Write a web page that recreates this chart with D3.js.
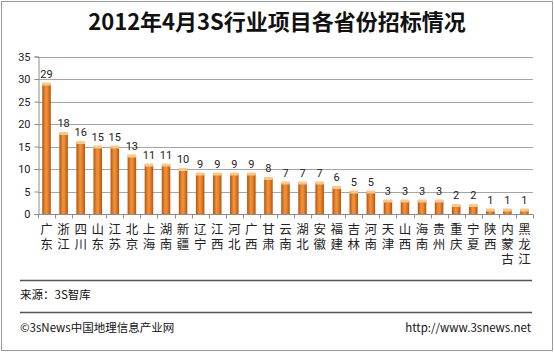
<!DOCTYPE html>
<html>
<head>
<meta charset="utf-8">
<script src="https://cdn.jsdelivr.net/npm/d3@7"></script>
<style>
  body { margin: 0; background: #fff; }
  text { font-family: "Noto Sans CJK SC", "DejaVu Sans", sans-serif; }
</style>
</head>
<body>
<script>
// Chart size
const width = 554;
const height = 353;

// Data
const provinces = ["广东", "浙江", "四川", "山东", "江苏", "北京", "上海", "湖南", "新疆", "辽宁",
  "江西", "河北", "广西", "甘肃", "云南", "湖北", "安徽", "福建", "吉林", "河南",
  "天津", "山西", "海南", "贵州", "重庆", "宁夏", "陕西", "内蒙古", "黑龙江"];
const counts = [29, 18, 16, 15, 15, 13, 11, 11, 10, 9, 9, 9, 9, 8, 7, 7, 7, 6, 5, 5, 3, 3, 3, 3, 2, 2, 1, 1, 1];
const yTicks = [0, 5, 10, 15, 20, 25, 30, 35];

const margin = { left: 38, right: 21, top: 56.5, bottom: 139 };

const svg = d3.select("body").append("svg")
  .attr("width", width)
  .attr("height", height);

// Bar gradient
const defs = svg.append("defs");
const grad = defs.append("linearGradient").attr("id", "barGrad")
  .attr("x1", "0%").attr("x2", "100%").attr("y1", "0%").attr("y2", "0%");
grad.append("stop").attr("offset", "0%").attr("stop-color", "#b5520c");
grad.append("stop").attr("offset", "40%").attr("stop-color", "#f0923a");
grad.append("stop").attr("offset", "60%").attr("stop-color", "#ec8a32");
grad.append("stop").attr("offset", "100%").attr("stop-color", "#b5520c");

// Outer frame
svg.append("rect")
  .attr("x", 1.5).attr("y", 1.5)
  .attr("width", width - 3).attr("height", height - 4)
  .attr("fill", "#fff")
  .attr("stroke", "#9a9a9a");

// Title
svg.append("text")
  .attr("x", width / 2)
  .attr("y", 30)
  .attr("text-anchor", "middle")
  .style("font-size", "22px")
  .style("font-weight", "bold")
  .style("fill", "#111")
  .text("2012年4月3S行业项目各省份招标情况");

// Scales
const x = d3.scaleBand()
  .domain(provinces)
  .range([margin.left, width - margin.right])
  .paddingInner(0.5)
  .paddingOuter(0.25);

const y = d3.scaleLinear()
  .domain([0, 35])
  .range([height - margin.bottom, margin.top]);

// Gridlines
svg.append("g")
  .selectAll("line")
  .data(yTicks.filter(t => t > 0))
  .enter().append("line")
  .attr("x1", margin.left)
  .attr("x2", width - margin.right)
  .attr("y1", d => Math.round(y(d)) + 0.5)
  .attr("y2", d => Math.round(y(d)) + 0.5)
  .attr("stroke", "#a6a6a6")
  .attr("stroke-width", 1);

// Y axis
const yAxis = svg.append("g")
  .attr("transform", `translate(${margin.left + 0.5},0)`)
  .call(d3.axisLeft(y).tickValues(yTicks).tickSize(4).tickPadding(4));
yAxis.select(".domain").attr("stroke", "#8c8c8c");
yAxis.selectAll(".tick line").attr("stroke", "#8c8c8c");
yAxis.selectAll(".tick text")
  .style("font-size", "11px")
  .style("font-family", "Roboto, 'DejaVu Sans', sans-serif")
  .attr("fill", "#222");

// X axis line and ticks at band edges
const xAxisY = Math.round(y(0)) + 0.5;
svg.append("line")
  .attr("x1", margin.left).attr("x2", width - margin.right)
  .attr("y1", xAxisY).attr("y2", xAxisY)
  .attr("stroke", "#8c8c8c");
const step = x.step();
svg.append("g")
  .selectAll("line")
  .data(d3.range(provinces.length + 1))
  .enter().append("line")
  .attr("x1", i => Math.round(margin.left + i * step) + 0.5)
  .attr("x2", i => Math.round(margin.left + i * step) + 0.5)
  .attr("y1", xAxisY)
  .attr("y2", xAxisY + 4)
  .attr("stroke", "#8c8c8c");

// Bars
const bars = svg.append("g")
  .selectAll("g")
  .data(provinces.map((p, i) => ({ name: p, value: counts[i] })))
  .enter().append("g");

bars.append("rect")
  .attr("x", d => x(d.name))
  .attr("y", d => y(d.value))
  .attr("width", x.bandwidth())
  .attr("height", d => y(0) - y(d.value))
  .attr("fill", "url(#barGrad)");

// light top cap
bars.append("rect")
  .attr("x", d => x(d.name))
  .attr("y", d => y(d.value) - 1)
  .attr("width", x.bandwidth())
  .attr("height", 3)
  .attr("fill", "#f9c98a");

// Value labels
bars.append("text")
  .attr("x", d => x(d.name) + x.bandwidth() / 2)
  .attr("y", d => y(d.value) - 6)
  .attr("text-anchor", "middle")
  .style("font-size", "11px")
  .style("font-family", "Roboto, 'DejaVu Sans', sans-serif")
  .style("fill", "#222")
  .text(d => d.value);

// Vertical category labels (top-to-bottom writing)
bars.append("text")
  .attr("x", d => x(d.name) + x.bandwidth() / 2)
  .attr("y", y(0) + 9)
  .attr("text-anchor", "start")
  .style("writing-mode", "vertical-rl")
  .style("letter-spacing", "2.5px")
  .style("font-size", "12.5px")
  .style("fill", "#222")
  .text(d => d.name);

// Footer
svg.append("line")
  .attr("x1", 20).attr("x2", 532)
  .attr("y1", 280.5).attr("y2", 280.5)
  .attr("stroke", "#555").attr("stroke-width", 1.5);
svg.append("line")
  .attr("x1", 20).attr("x2", 532)
  .attr("y1", 312.5).attr("y2", 312.5)
  .attr("stroke", "#555").attr("stroke-width", 1.5);

svg.append("text")
  .attr("x", 20).attr("y", 299)
  .style("font-size", "11.5px")
  .style("fill", "#111")
  .text("来源：3S智库");

svg.append("text")
  .attr("x", 20).attr("y", 332)
  .style("font-size", "11.5px")
  .style("fill", "#111")
  .text("©3sNews中国地理信息产业网");

svg.append("text")
  .attr("x", 531).attr("y", 332)
  .attr("text-anchor", "end")
  .style("font-size", "11.5px")
  .style("fill", "#111")
  .text("http://www.3snews.net");
</script>
</body>
</html>
